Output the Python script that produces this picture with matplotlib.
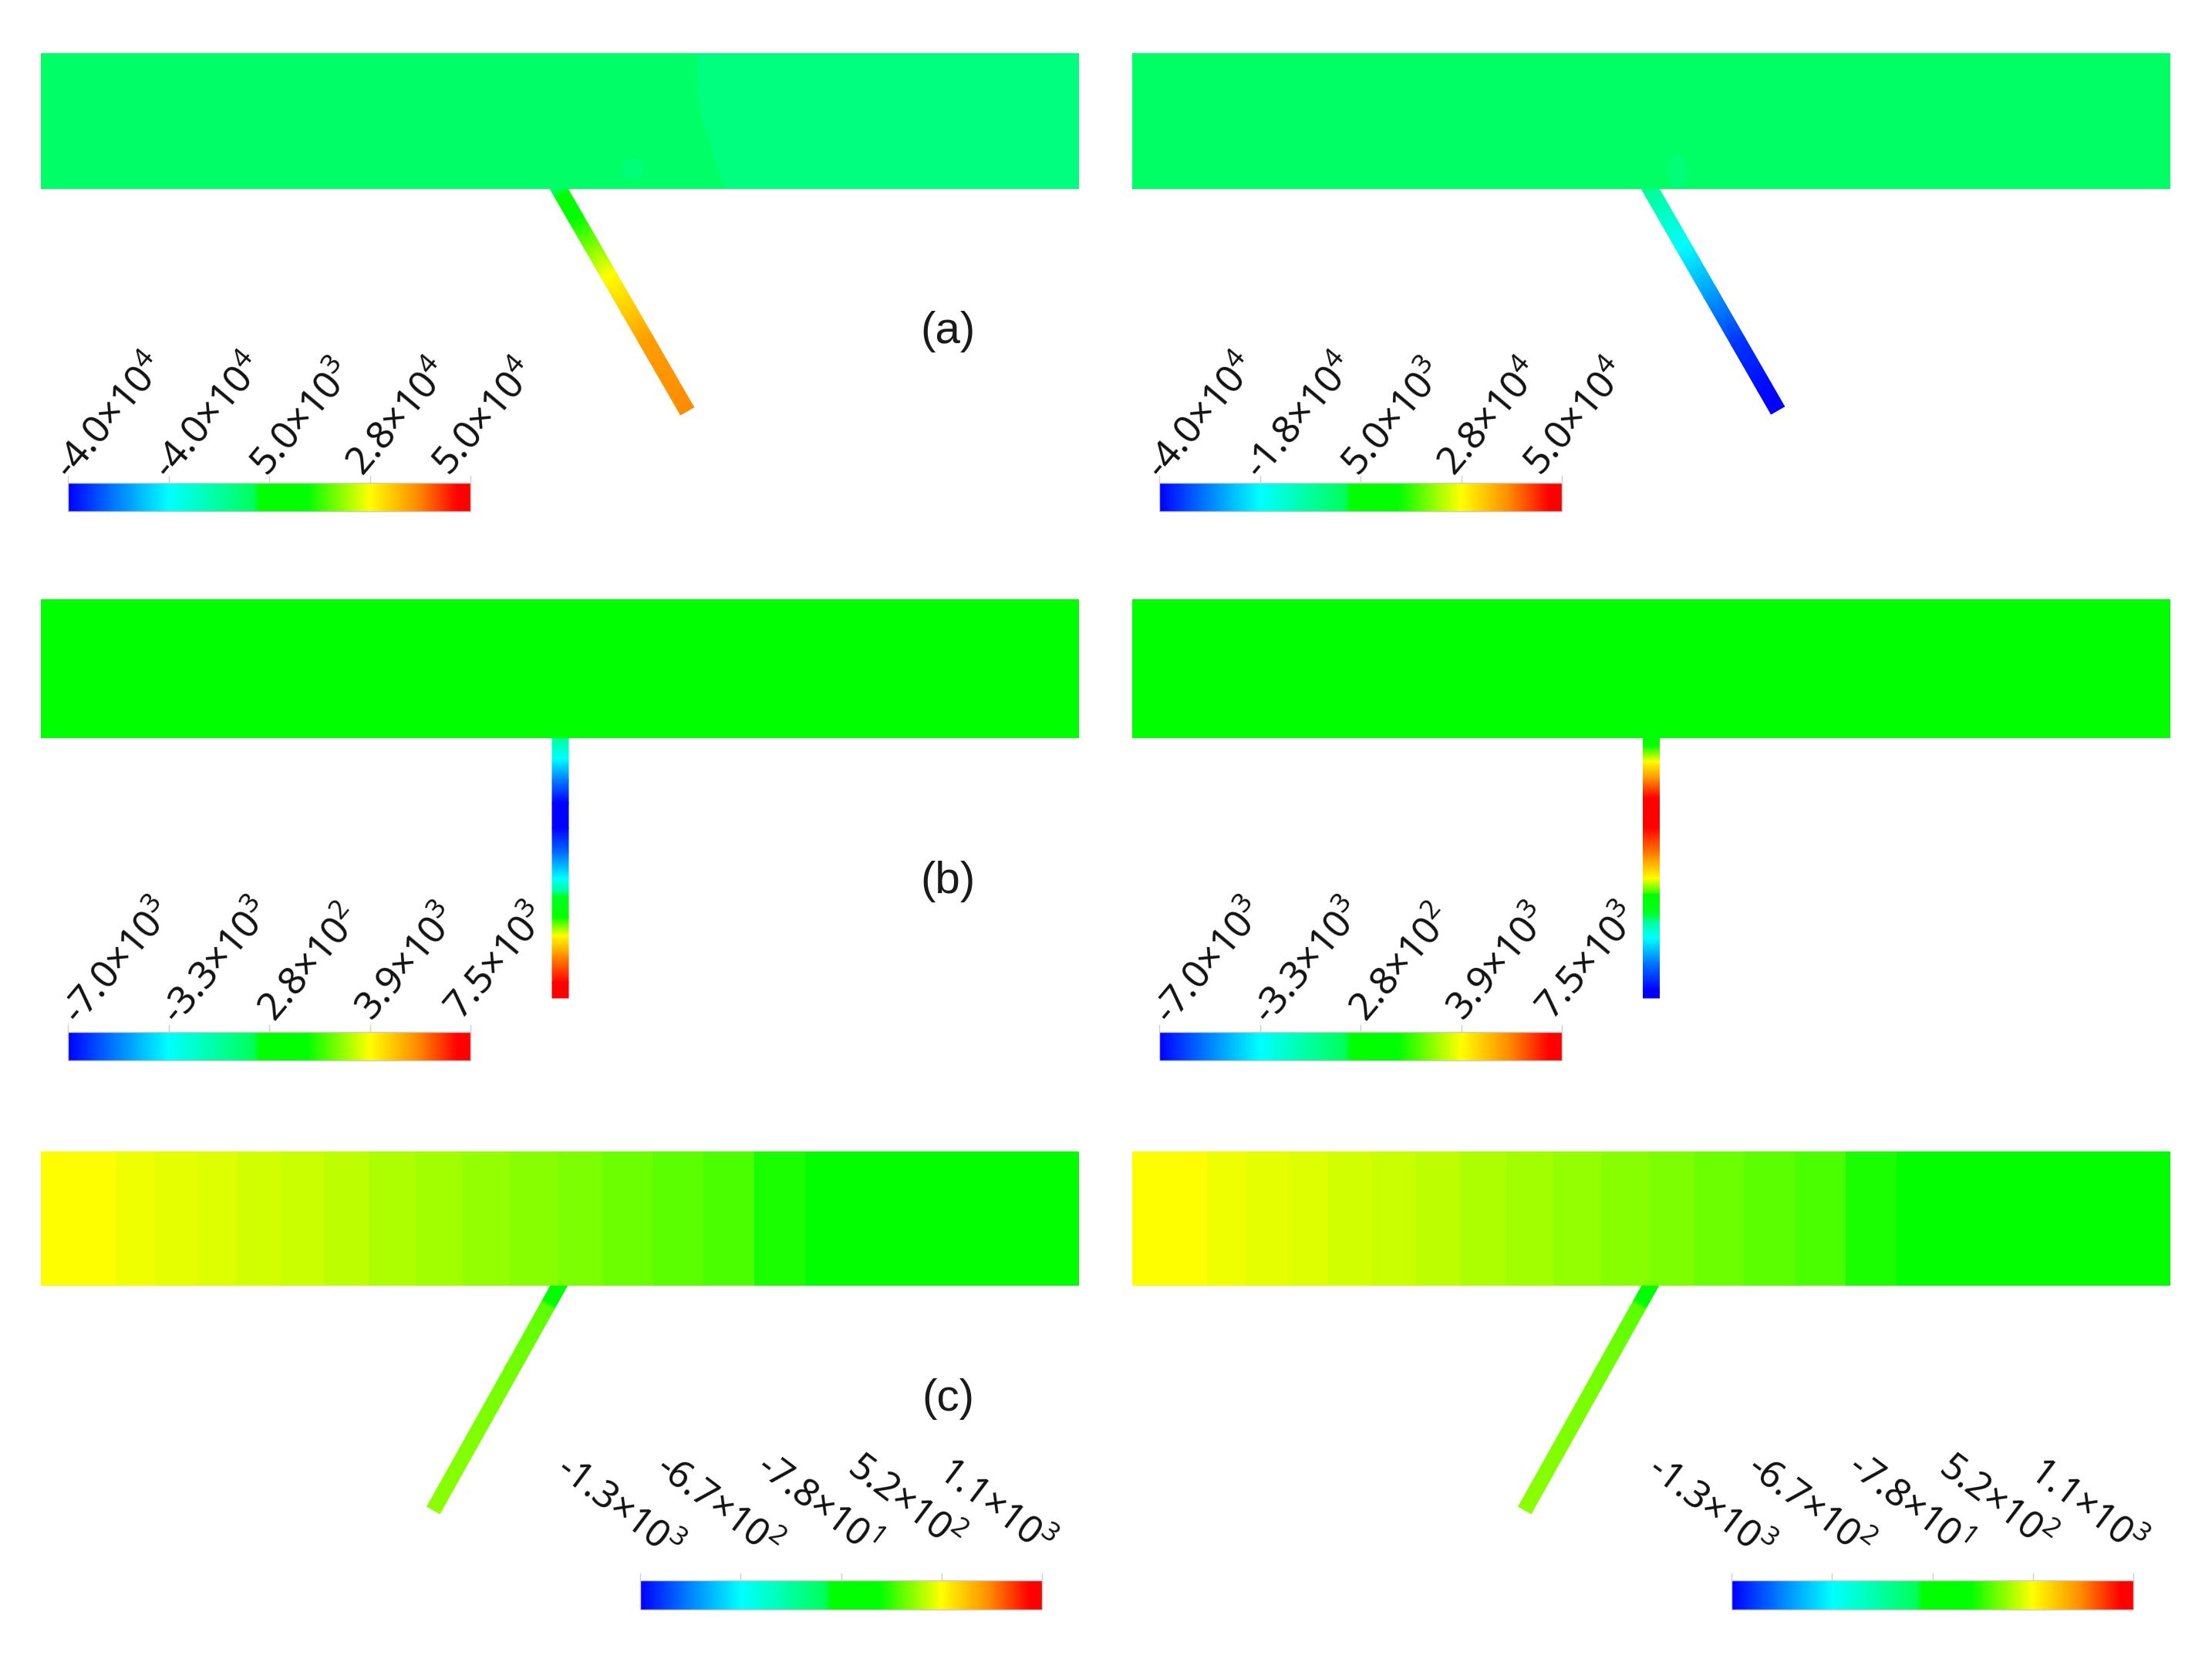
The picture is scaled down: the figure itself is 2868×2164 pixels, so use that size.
import numpy as np
import matplotlib
matplotlib.use("Agg")
import matplotlib.pyplot as plt
from matplotlib.colors import LinearSegmentedColormap
from matplotlib.patches import Ellipse, Polygon

plt.rcParams['font.family'] = ['Noto Sans', 'DejaVu Sans']
plt.rcParams['mathtext.default'] = 'regular'

# ---- colour scale -------------------------------------------------------
scale_knots = [0.0, 0.12, 0.25, 0.46, 0.475, 0.595, 0.75, 0.87, 0.97, 1.0]
scale_colors = ['#0000ff', '#0080ff', '#00ffff', '#00ff5a', '#00ff00', '#00ff00',
                '#ffff00', '#ff8c00', '#ff0000', '#ff0000']

# ---- tick labels --------------------------------------------------------
labels_a_left = ['-4.0×10$^{4}$', '-4.0×10$^{4}$', '5.0×10$^{3}$', '2.8×10$^{4}$', '5.0×10$^{4}$']
labels_a_right = ['-4.0×10$^{4}$', '-1.8×10$^{4}$', '5.0×10$^{3}$', '2.8×10$^{4}$', '5.0×10$^{4}$']
labels_b = ['-7.0×10$^{3}$', '-3.3×10$^{3}$', '2.8×10$^{2}$', '3.9×10$^{3}$', '7.5×10$^{3}$']
labels_c = ['-1.3×10$^{3}$', '-6.7×10$^{2}$', '-7.8×10$^{1}$', '5.2×10$^{2}$', '1.1×10$^{3}$']
panel_names = ['(a)', '(b)', '(c)']

# ---- field values along the channel (normalised to the colour scale) ----
band_a_left_edges = [0.0, 1.0]
band_a_left_values = [0.445]
band_a_right_edges = [0.0, 1.0]
band_a_right_values = [0.447]
band_b_edges = [0.0, 1.0]
band_b_values = [0.53]
band_c_edges = [0.0, 0.072, 0.110, 0.151, 0.189, 0.231, 0.273, 0.316, 0.360, 0.406,
                0.452, 0.498, 0.541, 0.589, 0.638, 0.687, 0.736, 1.0]
band_c_values = [0.75, 0.74, 0.735, 0.73, 0.722, 0.717, 0.71, 0.70, 0.693, 0.685,
                 0.677, 0.67, 0.66, 0.65, 0.64, 0.61, 0.595]

# ---- field values along the side branch ---------------------------------
strut_a_left_s = [0.0, 0.03, 0.06, 0.16, 0.41, 0.69, 1.0]
strut_a_left_v = [0.44, 0.44, 0.50, 0.59, 0.75, 0.85, 0.87]
strut_a_right_s = [0.0, 0.285, 0.49, 0.70, 0.90, 1.0]
strut_a_right_v = [0.40, 0.25, 0.15, 0.05, 0.01, 0.0]
strut_b_left_s = [0.0, 0.08, 0.16, 0.25, 0.345, 0.44, 0.54, 0.59, 0.61, 0.69, 0.76, 0.84, 0.94, 1.0]
strut_b_left_v = [0.38, 0.25, 0.12, 0.0, 0.0, 0.10, 0.25, 0.38, 0.47, 0.60, 0.75, 0.87, 1.0, 1.0]
strut_b_right_s = [0.0, 0.03, 0.09, 0.16, 0.23, 0.345, 0.455, 0.54, 0.60, 0.60, 0.67, 0.71, 0.77, 0.86, 0.97, 1.0]
strut_b_right_v = [0.53, 0.60, 0.75, 0.87, 1.0, 1.0, 0.87, 0.75, 0.62, 0.59, 0.47, 0.37, 0.25, 0.12, 0.0, 0.0]
strut_c_s = [0.0, 0.115, 0.13, 0.40, 1.0]
strut_c_v = [0.58, 0.59, 0.65, 0.665, 0.68]

tick_fracs = [0.0, 0.25, 0.5, 0.75, 1.0]

W, H = 2868, 2164
fig = plt.figure(figsize=(W / 200, H / 200), dpi=200)
ax = fig.add_axes([0, 0, 1, 1])
ax.set_xlim(0, W)
ax.set_ylim(H, 0)
ax.axis('off')

cmap = LinearSegmentedColormap.from_list('cfd', list(zip(scale_knots, scale_colors)), N=1024)


def band(x0, x1, y0, y1, edges, values):
    xs = x0 + np.asarray(edges) * (x1 - x0)
    ax.pcolormesh(xs, [y0, y1], np.asarray(values)[None, :], cmap=cmap, vmin=0, vmax=1,
                  shading='flat', zorder=2, antialiased=False, linewidth=0)


def strut(top, tip, width, s, v):
    top, tip = np.asarray(top, float), np.asarray(tip, float)
    d = tip - top
    n = np.array([-d[1], d[0]]) / np.hypot(*d)
    s = np.asarray(s)
    c = top + s[:, None] * d
    X = np.vstack([c[:, 0] - n[0] * width / 2, c[:, 0] + n[0] * width / 2])
    Y = np.vstack([c[:, 1] - n[1] * width / 2, c[:, 1] + n[1] * width / 2])
    C = np.vstack([v, v])
    ax.pcolormesh(X, Y, C, cmap=cmap, vmin=0, vmax=1, shading='gouraud', zorder=1)


def colorbar(x0, x1, y0, y1):
    grad = np.linspace(0, 1, 525)[None, :]
    ax.pcolormesh(np.linspace(x0, x1, 526), [y0, y1], grad, cmap=cmap, vmin=0, vmax=1,
                  shading='flat', zorder=2, antialiased=False, linewidth=0)
    ax.add_patch(plt.Rectangle((x0, y0), x1 - x0, y1 - y0, fill=False, ec='#cccccc', lw=0.5, zorder=3))
    for f in tick_fracs:
        xt = x0 + f * (x1 - x0)
        ax.plot([xt, xt], [y0 - 9, y0], color='#cfcfcf', lw=0.5, zorder=3)


def tick_text(anchors, labels, rot, dx=0, size=18):
    for (xa, ya), t in zip(anchors, labels):
        ax.text(xa + dx, ya, t, rotation=rot, rotation_mode='anchor', ha='left', va='baseline',
                fontsize=size, color='#111111', zorder=4)


DX = 1415
X0, X1 = 53, 1399
# row a
band(X0, X1, 69, 245, band_a_left_edges, band_a_left_values)
ax.add_patch(Polygon([(903, 69), (905, 130), (915, 170), (928, 210), (940, 245), (X1, 245), (X1, 69)],
                     fc=cmap(0.415), ec='none', zorder=2.1))
ax.add_patch(Ellipse((820, 219), 28, 26, fc=cmap(0.42), ec='none', zorder=2.2))
band(X0 + DX, X1 + DX, 69, 245, band_a_right_edges, band_a_right_values)
ax.add_patch(Ellipse((2175, 222), 26, 42, fc=cmap(0.42), ec='none', zorder=2.2))
strut((719, 235), (891, 533), 20, strut_a_left_s, strut_a_left_v)
strut((2134, 235), (2305, 532), 20, strut_a_right_s, strut_a_right_v)
# row b
band(X0, X1, 777, 957, band_b_edges, band_b_values)
band(X0 + DX, X1 + DX, 777, 957, band_b_edges, band_b_values)
strut((726.5, 957), (726.5, 1294), 21, strut_b_left_s, strut_b_left_v)
strut((2141, 957), (2141, 1294), 21, strut_b_right_s, strut_b_right_v)
# row c
band(X0, X1, 1493, 1667, band_c_edges, band_c_values)
band(X0 + DX, X1 + DX, 1493, 1667, band_c_edges, band_c_values)
strut((732, 1654), (562, 1958), 19, strut_c_s, strut_c_v)
strut((2147, 1654), (1977, 1958), 19, strut_c_s, strut_c_v)

# colour bars
for dx in (0, DX):
    colorbar(88 + dx, 610 + dx, 626, 663)
    colorbar(88 + dx, 610 + dx, 1338, 1375)
    colorbar(830 + dx, 1351 + dx, 2049, 2087)

anch_a = [(92, 624), (220, 624), (346, 619), (471, 619), (583, 619)]
anch_b = [(102, 1330), (230, 1330), (356, 1326), (482, 1325), (598, 1324)]
anch_c = [(719, 1909), (848, 1907), (978, 1907), (1097, 1907), (1214, 1913)]
tick_text(anch_a, labels_a_left, 50)
tick_text(anch_a, labels_a_right, 50, DX)
tick_text(anch_b, labels_b, 50)
tick_text(anch_b, labels_b, 50, DX)
tick_text(anch_c, labels_c, -37, size=17.5)
tick_text(anch_c, labels_c, -37, DX, size=17.5)

for name, y in zip(panel_names, [430, 1143, 1814]):
    ax.text(1229, y, name, family='Liberation Sans', fontsize=21, ha='center', va='center', color='#1a1a1a')

fig.savefig('out.png', dpi=200, facecolor='white')
